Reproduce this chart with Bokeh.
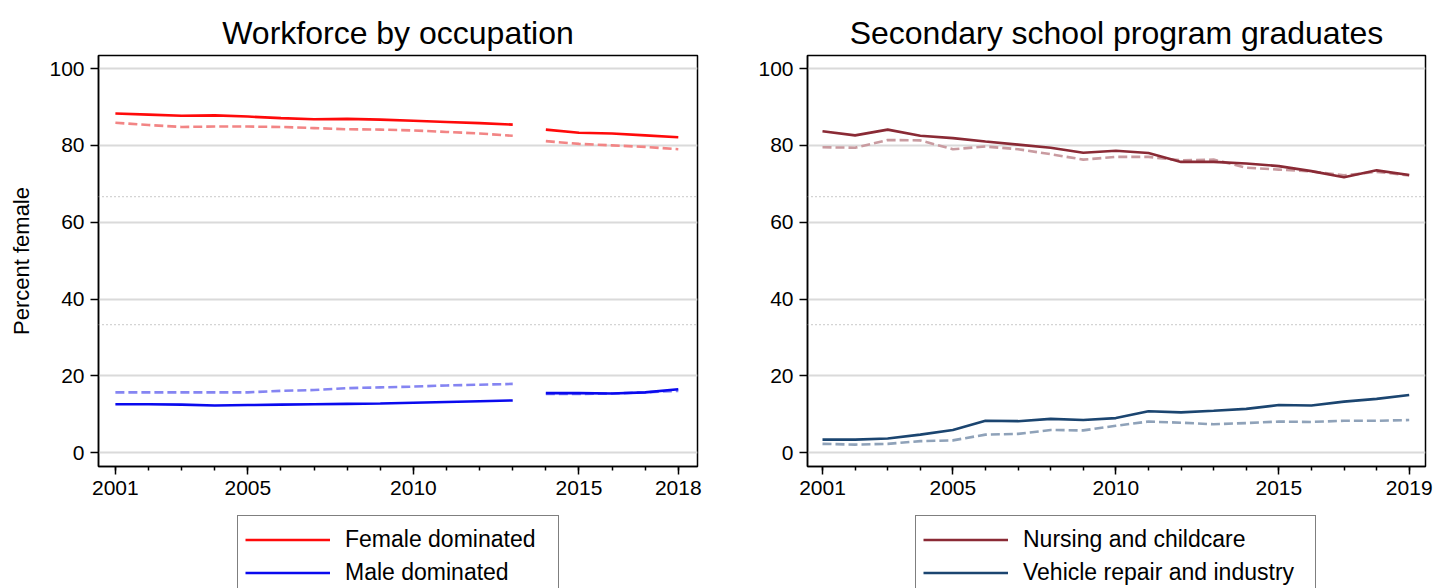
from bokeh.plotting import figure
from bokeh.models import Range1d, FixedTicker, Span, Legend, LegendItem
from bokeh.layouts import row, column
from bokeh.embed import file_html
from bokeh.resources import INLINE

FONT = "Liberation Sans"

# ---------------- data: workforce by occupation ----------------
years_w = list(range(2001, 2019))
break_after = 2013  # series is interrupted between 2013 and 2014
female_dom = [88.3, 88.0, 87.7, 87.8, 87.5, 87.1, 86.8, 86.9, 86.7, 86.4, 86.1, 85.8, 85.4,
              84.1, 83.3, 83.1, 82.6, 82.1]
female_dom_ref = [85.9, 85.3, 84.8, 84.9, 84.9, 84.8, 84.5, 84.2, 84.1, 83.9, 83.5, 83.1, 82.5,
                  81.1, 80.4, 80.0, 79.6, 79.0]
male_dom = [12.6, 12.6, 12.5, 12.3, 12.4, 12.5, 12.6, 12.7, 12.8, 13.0, 13.2, 13.4, 13.6,
            15.5, 15.5, 15.4, 15.7, 16.5]
male_dom_ref = [15.7, 15.7, 15.7, 15.7, 15.7, 16.1, 16.3, 16.8, 17.0, 17.2, 17.5, 17.7, 17.9,
                15.3, 15.3, 15.4, 15.7, 16.1]
xticks_w = [2001, 2005, 2010, 2015, 2018]

# ---------------- data: secondary school program graduates ----------------
years_s = list(range(2001, 2020))
nursing = [83.7, 82.6, 84.1, 82.5, 81.9, 81.0, 80.2, 79.4, 78.1, 78.6, 78.0, 75.7, 75.7,
           75.3, 74.6, 73.3, 71.7, 73.5, 72.3]
nursing_ref = [79.5, 79.4, 81.4, 81.3, 79.0, 79.7, 79.0, 77.7, 76.3, 77.0, 77.0, 76.1, 76.3,
               74.2, 73.7, 73.2, 72.2, 73.1, 72.2]
vehicle = [3.4, 3.4, 3.7, 4.7, 5.9, 8.3, 8.2, 8.8, 8.5, 9.0, 10.8, 10.5, 10.9, 11.4, 12.4,
           12.3, 13.3, 14.0, 15.0]
vehicle_ref = [2.3, 2.1, 2.3, 3.0, 3.2, 4.7, 4.9, 5.9, 5.8, 7.0, 8.1, 7.8, 7.4, 7.7, 8.1,
               8.0, 8.3, 8.3, 8.5]
xticks_s = [2001, 2005, 2010, 2015, 2019]

yticks = [0, 20, 40, 60, 80, 100]
third_lines = [100 / 3, 200 / 3]

C_FEM, C_FEM_D = "#FF0A0A", "#F28585"
C_MAL, C_MAL_D = "#0A0AEE", "#8585F2"
C_NUR, C_NUR_D = "#8A2A35", "#C99BA0"
C_VEH, C_VEH_D = "#1B4570", "#8FA2B9"
LW = 2.6
DASH = "9 4"


def style(p, xticks, minor):
    p.title.text_font = FONT
    p.title.text_font_size = "32px"
    p.title.text_font_style = "normal"
    p.title.text_color = "black"
    p.title.align = "center"
    p.title.standoff = 10
    p.outline_line_color = "black"
    p.outline_line_width = 1.5
    p.xgrid.grid_line_color = None
    p.ygrid.ticker = FixedTicker(ticks=yticks)
    p.ygrid.grid_line_color = "#DADADA"
    p.ygrid.grid_line_width = 2
    p.xaxis.ticker = FixedTicker(ticks=xticks, minor_ticks=minor)
    p.yaxis.ticker = FixedTicker(ticks=yticks, minor_ticks=[])
    for ax in (p.xaxis[0], p.yaxis[0]):
        ax.axis_line_color = "black"
        ax.axis_line_width = 1.5
        ax.major_tick_line_color = "black"
        ax.major_tick_line_width = 1.5
        ax.minor_tick_line_color = "black"
        ax.minor_tick_line_width = 1.5
        ax.major_tick_in = 0
        ax.major_tick_out = 8
        ax.minor_tick_in = 0
        ax.minor_tick_out = 4
        ax.major_label_text_font = FONT
        ax.major_label_text_font_size = "21px"
        ax.major_label_text_color = "black"
        ax.axis_label_text_font = FONT
        ax.axis_label_text_font_style = "normal"
        ax.axis_label_text_font_size = "22px"
        ax.axis_label_text_color = "black"
    p.xaxis.major_label_standoff = 6
    p.yaxis.major_label_standoff = 6
    for loc in third_lines:
        p.add_layout(Span(location=loc, dimension="width", line_color="#A8A8A8",
                          line_width=1.2, line_dash="1 3"))


def legend_panel(width, labels, xs, ys, colors, x_off, label_width):
    """A strip below a chart that holds only its legend box."""
    lp = figure(width=width, height=80, x_range=Range1d(0, 1), y_range=Range1d(0, 1),
                x_axis_type=None, y_axis_type=None, output_backend="svg",
                toolbar_location=None, min_border=0, outline_line_color=None)
    items = []
    for lab, x, y, c in zip(labels, xs, ys, colors):
        # the series themselves, outside this strip's view; only their legend glyph shows
        r = lp.line(x, y, line_color=c, line_width=LW)
        items.append(LegendItem(label=lab, renderers=[r]))
    leg = Legend(items=items, location=(x_off, -9), orientation="vertical")
    leg.label_text_font = FONT
    leg.label_text_font_size = "23px"
    leg.label_text_color = "black"
    leg.border_line_color = "black"
    leg.border_line_width = 1
    leg.glyph_width = 85
    leg.glyph_height = 33
    leg.label_height = 33
    leg.label_width = label_width
    leg.label_standoff = 15
    leg.spacing = 0
    leg.padding = 7
    leg.margin = 0
    leg.background_fill_alpha = 0
    lp.add_layout(leg, "center")
    return lp


# ---------------- left figure ----------------
p1 = figure(width=725, height=508, title="Workforce by occupation",
            x_range=Range1d(2000.49, 2018.58), y_range=Range1d(-3.6, 103.4),
            output_backend="svg", toolbar_location=None,
            min_border_left=98, min_border_right=28, min_border_top=55, min_border_bottom=42)
style(p1, xticks_w, years_w)
p1.yaxis.axis_label = "Percent female"
p1.yaxis.axis_label_standoff = 12

n1 = years_w.index(break_after) + 1
for s in (slice(0, n1), slice(n1, len(years_w))):
    p1.line(years_w[s], female_dom_ref[s], line_color=C_FEM_D, line_width=LW, line_dash=DASH)
    p1.line(years_w[s], male_dom_ref[s], line_color=C_MAL_D, line_width=LW, line_dash=DASH)
    p1.line(years_w[s], female_dom[s], line_color=C_FEM, line_width=LW)
    p1.line(years_w[s], male_dom[s], line_color=C_MAL, line_width=LW)

l1 = legend_panel(725, ["Female dominated", "Male dominated"],
                  [years_w, years_w], [female_dom, male_dom], [C_FEM, C_MAL], 237, 206)

# ---------------- right figure ----------------
p2 = figure(width=725, height=508, title="Secondary school program graduates",
            x_range=Range1d(2000.54, 2019.5), y_range=Range1d(-3.6, 103.4),
            output_backend="svg", toolbar_location=None,
            min_border_left=82, min_border_right=25, min_border_top=55, min_border_bottom=42)
style(p2, xticks_s, years_s)

p2.line(years_s, nursing_ref, line_color=C_NUR_D, line_width=LW, line_dash=DASH)
p2.line(years_s, vehicle_ref, line_color=C_VEH_D, line_width=LW, line_dash=DASH)
p2.line(years_s, nursing, line_color=C_NUR, line_width=LW)
p2.line(years_s, vehicle, line_color=C_VEH, line_width=LW)

l2 = legend_panel(725, ["Nursing and childcare", "Vehicle repair and industry"],
                  [years_s, years_s], [nursing, vehicle], [C_NUR, C_VEH], 190, 285)

layout = column(row(p1, p2), row(l1, l2))
open("out.html", "w").write(file_html(layout, INLINE))
